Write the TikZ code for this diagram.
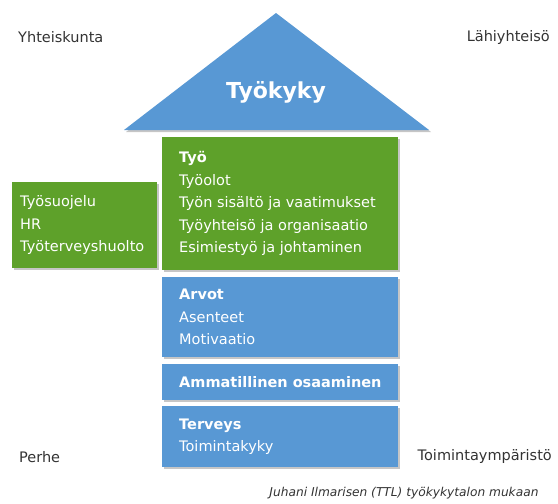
\documentclass[tikz,border=0pt]{standalone}
\usepackage{fontspec}
\setmainfont{DejaVu Sans}
\usepackage{tikz}
\usetikzlibrary{
    positioning,
    shadows
}
\definecolor{housegreen}{RGB}{94,161,42}
\definecolor{houseblue}{RGB}{88,152,212}
\definecolor{cornergray}{RGB}{51,51,51}

\begin{document}
\begin{tikzpicture}[x=1pt,y=-1pt,
    shade/.style={drop shadow={shadow xshift=2pt,shadow yshift=-2pt,opacity=0.45}},
    box/.style={shade,draw=none,inner sep=0pt,anchor=north west},
    greenbox/.style={box,fill=housegreen},
    bluebox/.style={box,fill=houseblue},
    boxtext/.style={inner sep=0pt,align=left,text=white,
        font=\fontsize{14.5}{22.5}\selectfont},
    corner/.style={inner sep=0pt,text=cornergray,
        font=\fontsize{14.5}{16}\selectfont}]

\useasboundingbox (0,0) rectangle (558,504);

% Roof
\path[fill=houseblue,shade] (124,130) -- (276,13) -- (429,130) -- cycle;
\node[text=white,font=\bfseries\fontsize{22}{24}\selectfont]
    (tyokyky) at (276,92) {Työkyky};

% Tyo
\node[greenbox,minimum width=236,minimum height=133] (tyo) at (162,137) {};
\node[boxtext,right=17pt of tyo.west] (tyotxt)
    {\textbf{Työ}\\Työolot\\Työn sisältö ja vaatimukset\\
     Työyhteisö ja organisaatio\\Esimiestyö ja johtaminen};

% Support
\node[greenbox,minimum width=145,minimum height=86] (tuki) at (12,182) {};
\node[boxtext,right=8pt of tuki.west] (tukitxt)
    {Työsuojelu\\HR\\Työterveyshuolto};

% Arvot
\node[bluebox,minimum width=236,minimum height=80] (arvot) at (162,277) {};
\node[boxtext,right=17pt of arvot.west] (arvottxt)
    {\textbf{Arvot}\\Asenteet\\Motivaatio};

% Osaaminen
\node[bluebox,minimum width=236,minimum height=36] (osaaminen) at (162,364) {};
\node[boxtext,right=17pt of osaaminen.west] (osaamistxt)
    {\textbf{Ammatillinen osaaminen}};

% Terveys
\node[bluebox,minimum width=236,minimum height=61] (terveys) at (162,406) {};
\node[boxtext,right=17pt of terveys.west] (terveystxt)
    {\textbf{Terveys}\\Toimintakyky};

% Corners
\node[corner,anchor=west] (yhteiskunta) at (18,37) {Yhteiskunta};
\node[corner,anchor=east] (lahiyhteiso) at (550,37) {Lähiyhteisö};
\node[corner,anchor=west] (perhe) at (19,457) {Perhe};
\node[corner,anchor=east] (ymparisto) at (552,456) {Toimintaympäristö};

\node[anchor=east,text=cornergray,font=\itshape\fontsize{12.2}{14}\selectfont]
    (lahde) at (542,493) {Juhani Ilmarisen (TTL) työkykytalon mukaan};

\end{tikzpicture}
\end{document}
